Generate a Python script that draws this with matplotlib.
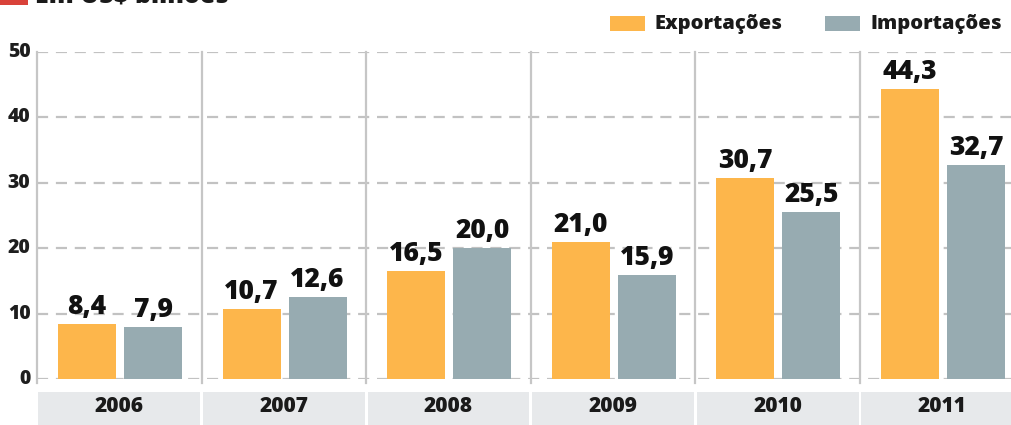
import matplotlib.pyplot as plt
from matplotlib.patches import Rectangle

years = ["2006", "2007", "2008", "2009", "2010", "2011"]
exportacoes = [8.4, 10.7, 16.5, 21.0, 30.7, 44.3]
importacoes = [7.9, 12.6, 20.0, 15.9, 25.5, 32.7]
yticks = [0, 10, 20, 30, 40, 50]

orange = "#fdb64b"
gray = "#97abb1"
FONT = "Open Sans"

W, H = 1011, 425
fig = plt.figure(figsize=(W / 100, H / 100), dpi=100)

# axes: x from px 37 to 1011, y=0 at px 379, y=50 at px 52
left = 37 / W
bottom = (H - 379) / H
top = (H - 52) / H
ax = fig.add_axes([left, bottom, 1 - left, top - bottom])
group_px = 164.6
ax.set_xlim(0, (W - 37) / group_px)
ax.set_ylim(0, 50)
for s in ax.spines.values():
    s.set_visible(False)
ax.set_xticks([])
ax.set_yticks([])

# dashed horizontal grid + y labels
for v in yticks:
    ax.axhline(v, color="#c2c2c2", lw=1.6, ls=(0, (5, 3.5)), zorder=1)
    ax.text(-0.04, v, str(v), ha="right", va="center", fontsize=14,
            fontweight="heavy", color="#1e1e1e", family=FONT)

# vertical separators
for i in range(len(years)):
    ax.axvline(i, ymin=-0.012, ymax=1.0, color="#c6c6c6", lw=1.6,
               clip_on=False, zorder=1)

w = 0.352
xs = list(range(len(years)))
ax.bar([x + 0.304 for x in xs], exportacoes, width=w, color=orange, zorder=2)
ax.bar([x + 0.705 for x in xs], importacoes, width=w, color=gray, zorder=2)

for x, e, m in zip(xs, exportacoes, importacoes):
    ax.text(x + 0.304, e + 0.6, f"{e:.1f}".replace(".", ","), ha="center",
            va="bottom", fontsize=19, fontweight="heavy", color="#111",
            family=FONT, zorder=3)
    ax.text(x + 0.705, m + 0.6, f"{m:.1f}".replace(".", ","), ha="center",
            va="bottom", fontsize=19, fontweight="heavy", color="#111",
            family=FONT, zorder=3)

# year band at bottom
trans = ax.get_xaxis_transform()
band_y0 = -(392 - 379) / (379 - 52)
band_y1 = -(H - 379) / (379 - 52)
for i, yr in enumerate(years):
    ax.add_patch(Rectangle((i + 0.008, band_y1), 0.984, band_y0 - band_y1,
                           transform=trans, facecolor="#e7e9eb",
                           edgecolor="none", clip_on=False))
    ax.text(i + 0.5, (band_y0 + band_y1) / 2 + 0.005, yr, transform=trans,
            ha="center", va="center", fontsize=15, fontweight="heavy",
            color="#1a1a1a", family=FONT)

# legend
fig.patches.append(Rectangle((610 / W, 1 - 31 / H), 35 / W, 15 / H,
                             transform=fig.transFigure, facecolor=orange,
                             edgecolor="none"))
fig.text(655 / W, 1 - 24 / H, "Exportações", ha="left", va="center",
         fontsize=14.5, fontweight="heavy", color="#1a1a1a", family=FONT)
fig.patches.append(Rectangle((825 / W, 1 - 31 / H), 35 / W, 15 / H,
                             transform=fig.transFigure, facecolor=gray,
                             edgecolor="none"))
fig.text(871 / W, 1 - 24 / H, "Importações", ha="left", va="center",
         fontsize=14.5, fontweight="heavy", color="#1a1a1a", family=FONT)

# title, cut off at the top edge as in the source image
fig.patches.append(Rectangle((0, 1 - 5 / H), 28 / W, 12 / H,
                             transform=fig.transFigure, facecolor="#d9423a",
                             edgecolor="none"))
fig.text(35 / W, 1 - 3 / H, "Em US$ bilhões", ha="left", va="baseline",
         fontsize=18, fontweight="heavy", color="#1a1a1a", family=FONT)

fig.savefig("out.png", dpi=100)
